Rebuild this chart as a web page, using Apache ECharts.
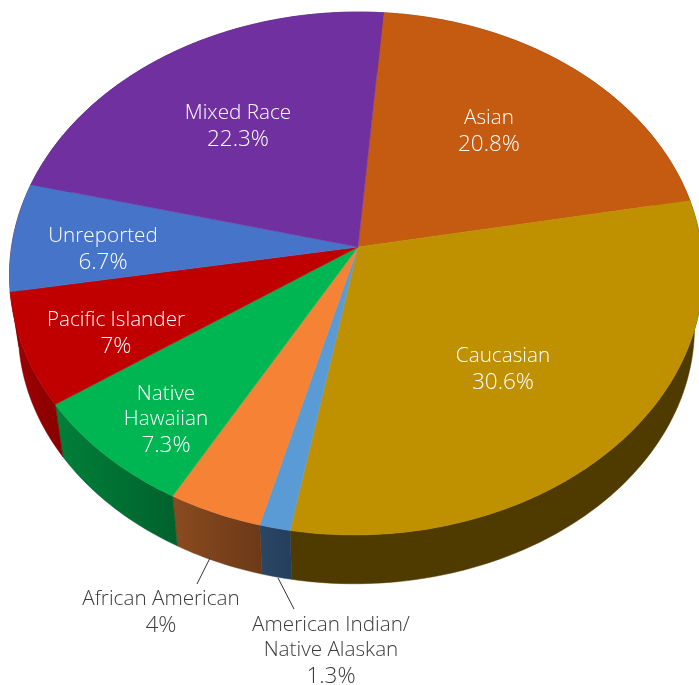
<!DOCTYPE html>
<html>
<head>
<meta charset="utf-8">
<style>html,body{margin:0;padding:0;background:#fff}#c{width:699px;height:685px}</style>
<script src="https://cdn.jsdelivr.net/npm/echarts@6/dist/echarts.min.js"></script>
</head>
<body>
<div id="c"></div>
<script>
// Data, clockwise from the Asian slice
const categories = ['Asian','Caucasian','American Indian/\nNative Alaskan','African American','Native\nHawaiian','Pacific Islander','Unreported','Mixed Race'];
const percents = [20.8,30.6,1.3,4,7.3,7,6.7,22.3];
const percentLabels = ['20.8%','30.6%','1.3%','4%','7.3%','7%','6.7%','22.3%'];

// Styling and layout, separate from the data
const topColors = ['#C55A11','#BF9000','#5B9BD5','#F58235','#00B653','#C00000','#4674C8','#7030A0'];
const wallColors = [['#6a300a','#6a300a'],['#4F3A00','#4F3A00'],['#2A4766','#243E5C'],['#8A4B20','#6C3917'],['#008039','#00612C'],['#A00000','#880000'],['#900000','#900000'],['#431d60','#431d60']];
const labelCenters = [[489,130],[503,368],[331,649],[161,611],[166,418],[116,332],[103,248],[238,125]];
const leaders = {2:[[278,578],[294,609]],3:[[210,558],[197,584]]};
const APEX = [358,247], K = 0.1013, A = 258.8, B = 345, START = 4.6, SHEAR = -0.008, RIM_DX = -1.5;
const DEPTH = 56, SHRINK = 0.975;
const FONT = '"Open Sans"';

function rim(deg, lower){
  const t = deg*Math.PI/180, u = Math.sin(t), v = -Math.cos(t), d = 1-K*v;
  const y = A*v/d, x = B*u/d + RIM_DX + SHEAR*y;
  if(lower) return [APEX[0]+SHRINK*x, APEX[1]+DEPTH+SHRINK*y];
  return [APEX[0]+x, APEX[1]+y];
}
function arc(a0,a1,lower){
  const n = Math.max(4,Math.ceil(Math.abs(a1-a0))), out=[];
  for(let i=0;i<=n;i++) out.push(rim(a0+(a1-a0)*i/n,lower));
  return out;
}
const angles = (()=>{let c=START; return percents.map(p=>{const a=[c,c+p*3.6]; c=a[1]; return a;});})();
const data = percents.map((p,i)=>({name:categories[i].replace('\n',' '),value:[i,p]}));

const chart = echarts.init(document.getElementById('c'),null,{renderer:'canvas'});
chart.setOption({
  animation:false,
  backgroundColor:'#fff',
  series:[
    {type:'custom',coordinateSystem:'none',silent:true,z:1,data,
     renderItem(params,api){
       const i=api.value(0),[a0,a1]=angles[i];
       const top=arc(a0,a1,false),low=arc(a0,a1,true).reverse();
       const fill=new echarts.graphic.LinearGradient(0,0,1,0,[{offset:0,color:wallColors[i][0]},{offset:1,color:wallColors[i][1]}]);
       return {type:'polygon',shape:{points:top.concat(low)},style:{fill,stroke:wallColors[i][1],lineWidth:0.5}};
     }},
    {type:'custom',coordinateSystem:'none',silent:true,z:2,data,
     renderItem(params,api){
       const i=api.value(0),[a0,a1]=angles[i];
       return {type:'polygon',shape:{points:[APEX].concat(arc(a0,a1,false))},style:{fill:topColors[i],stroke:topColors[i],lineWidth:0.5}};
     }},
    {type:'custom',coordinateSystem:'none',silent:true,z:3,data,
     renderItem(params,api){
       const i=api.value(0),outside=!!leaders[i],children=[];
       const color=outside?'#3b3b3b':'#fff';
       if(outside) children.push({type:'line',shape:{x1:leaders[i][0][0],y1:leaders[i][0][1],x2:leaders[i][1][0],y2:leaders[i][1][1]},style:{stroke:'#333',lineWidth:1}});
       const nameText=categories[i].split('\n').map(s=>'{n|'+s+'}').join('\n');
       children.push({type:'text',x:labelCenters[i][0],y:labelCenters[i][1]+1.5,style:{
         text:nameText+'\n{p|'+percentLabels[i]+'}',
         align:'center',verticalAlign:'middle',
         rich:{
           n:{font:'300 20.7px '+FONT,fill:color,lineHeight:25.8,align:'center'},
           p:{font:'300 22.5px '+FONT,fill:color,lineHeight:25.8,align:'center'}
         }}});
       return {type:'group',children};
     }}
  ]
});
</script>
</body>
</html>
